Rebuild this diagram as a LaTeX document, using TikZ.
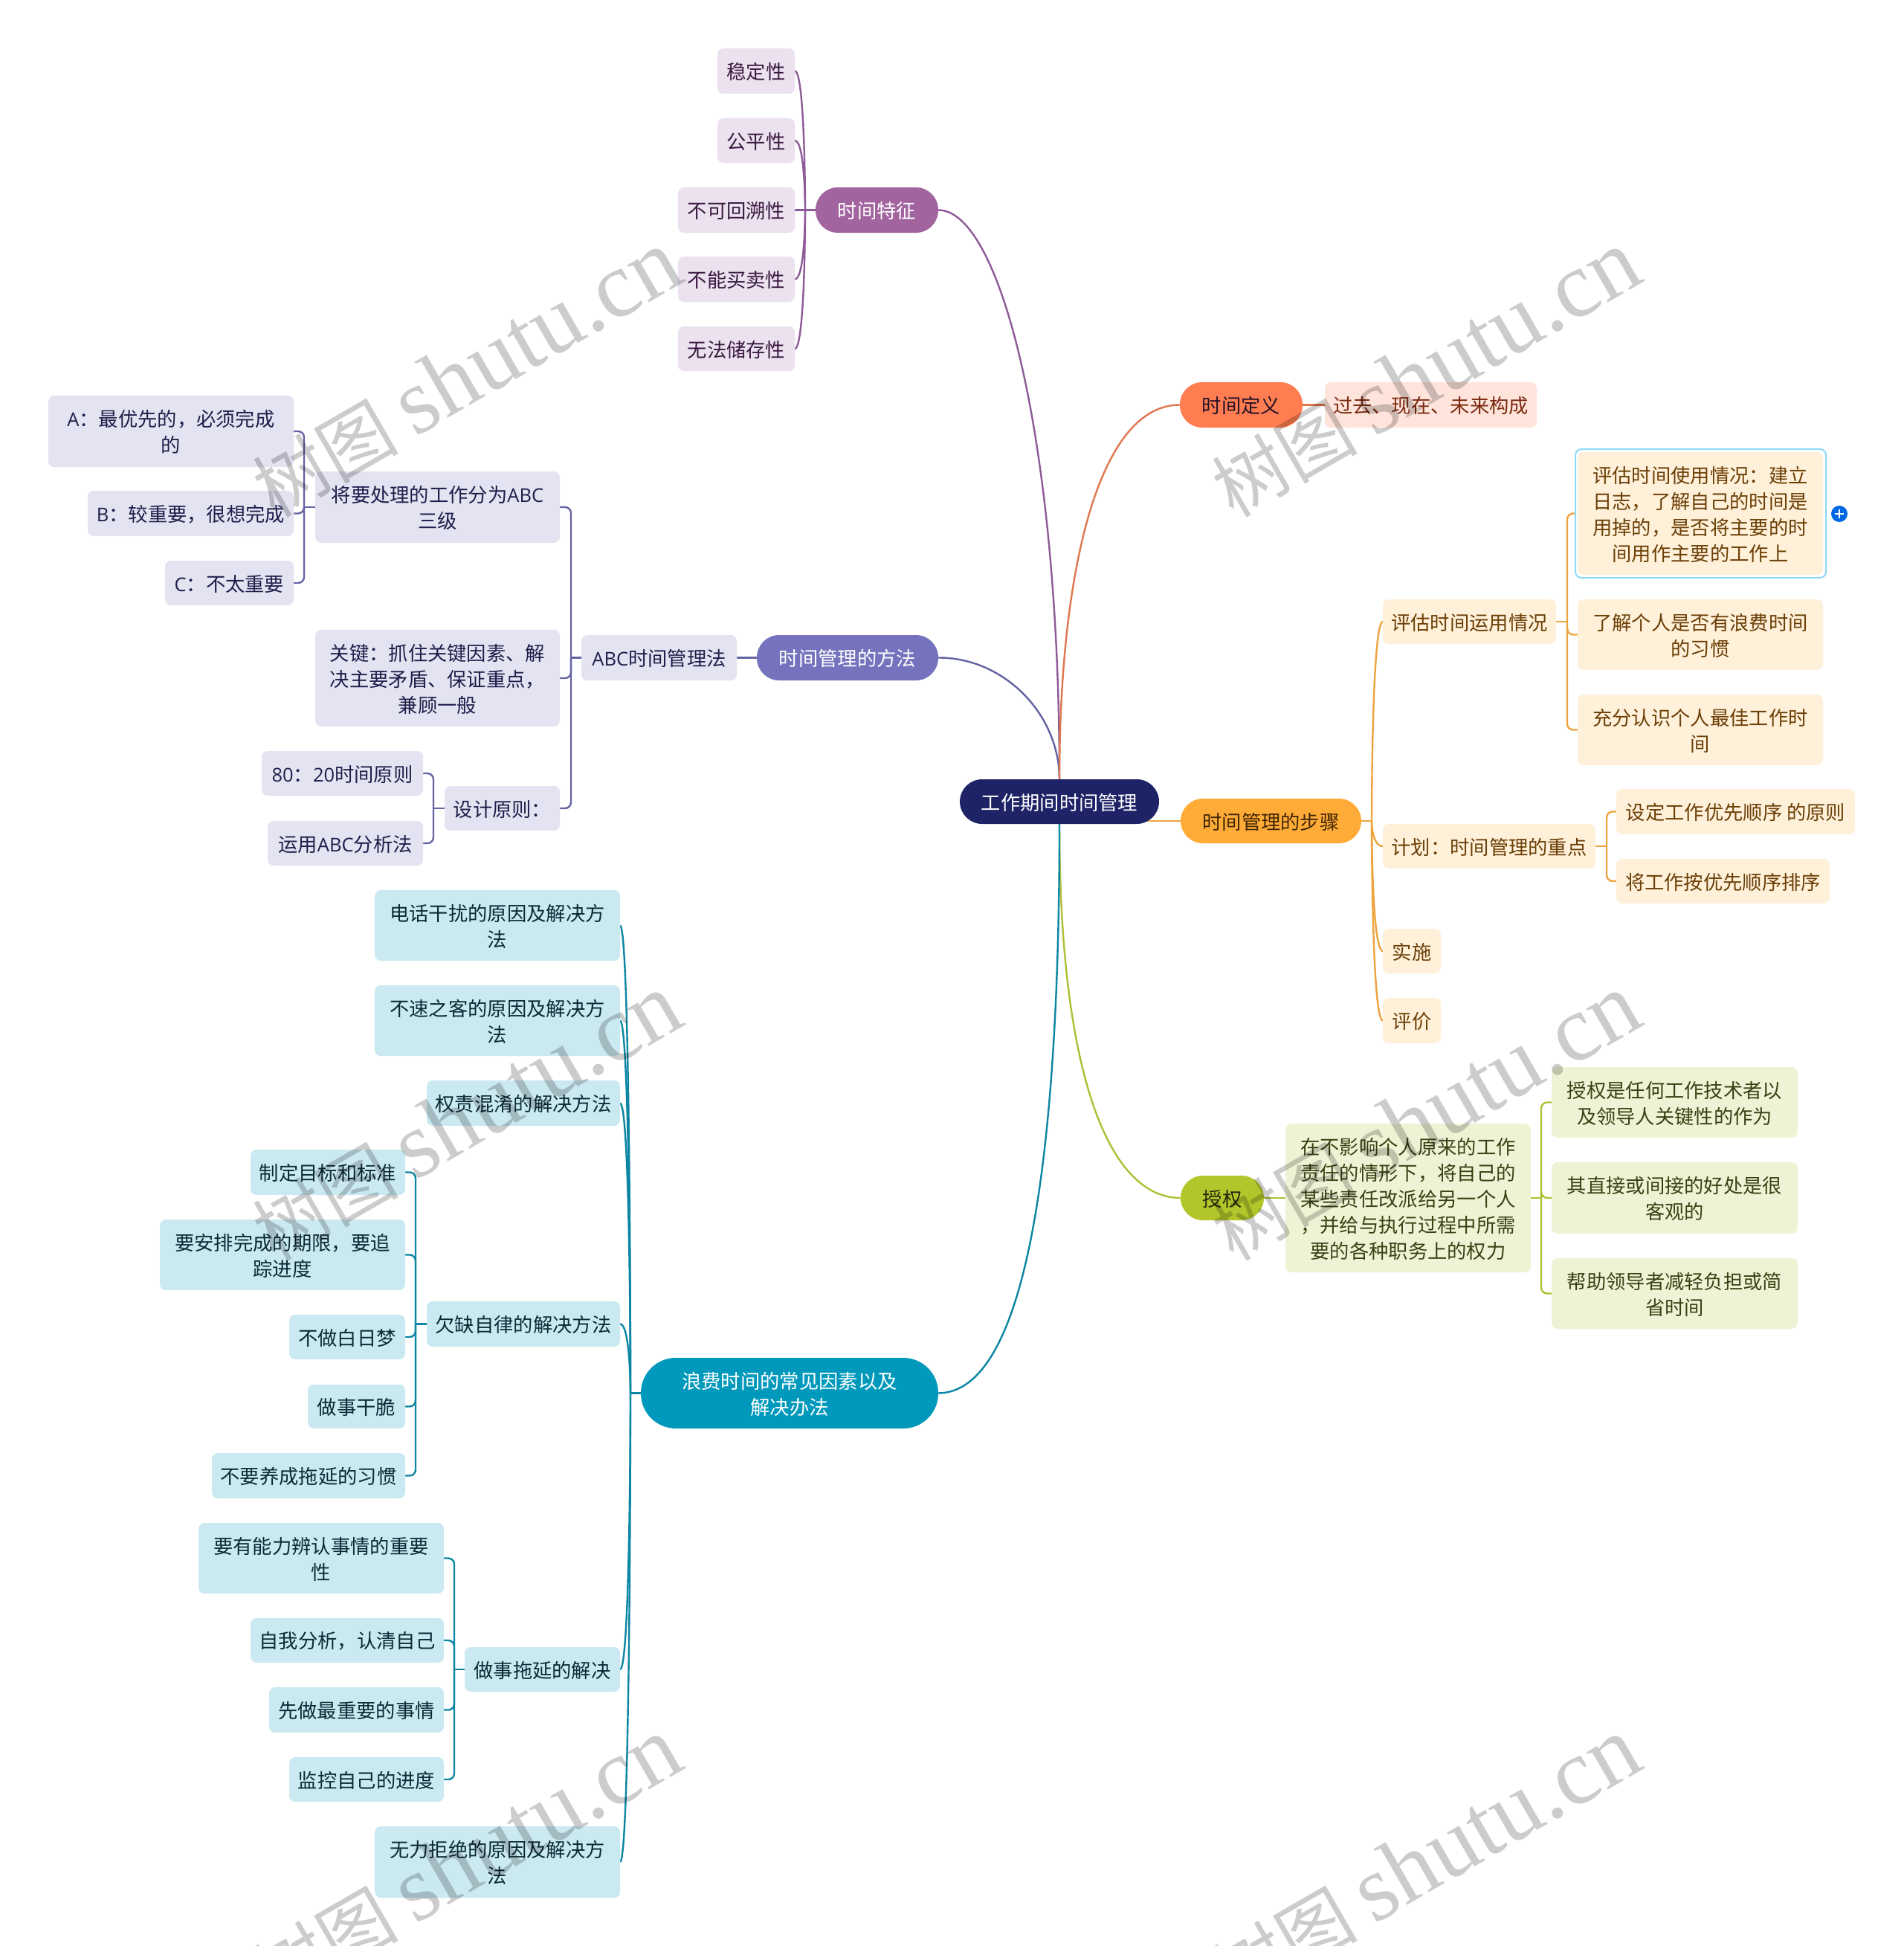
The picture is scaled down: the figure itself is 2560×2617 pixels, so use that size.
\documentclass[tikz,border=0pt]{standalone}
\usepackage{fontspec}
\setmainfont{Noto Sans CJK SC}
\newfontfamily\wmlatin{Liberation Serif}
\newfontfamily\ltnfont{Open Sans}
\newcommand\ltn[1]{{\ltnfont\fontsize{25.5}{35}\selectfont #1}}
\usetikzlibrary{backgrounds}
\definecolor{cRoot}{HTML}{1D2366}
\definecolor{cP}{HTML}{A2649F}\definecolor{cPl}{HTML}{EBE1EF}\definecolor{cPt}{HTML}{3A1A40}\definecolor{cPline}{HTML}{8F5A98}
\definecolor{cV}{HTML}{7573BE}\definecolor{cVl}{HTML}{E3E3F1}\definecolor{cVt}{HTML}{1E1E4B}\definecolor{cVline}{HTML}{6463A3}
\definecolor{cB}{HTML}{0099BB}\definecolor{cBl}{HTML}{CBE9F1}\definecolor{cBt}{HTML}{0B2A33}\definecolor{cBline}{HTML}{0C86A3}
\definecolor{cR}{HTML}{FF7D50}\definecolor{cRl}{HTML}{FFE4DC}\definecolor{cRt}{HTML}{7A2A10}\definecolor{cRline}{HTML}{E0774E}
\definecolor{cO}{HTML}{FFAB37}\definecolor{cOl}{HTML}{FFF0DA}\definecolor{cOt}{HTML}{6B3F05}\definecolor{cOline}{HTML}{EDA43F}
\definecolor{cG}{HTML}{B2C62B}\definecolor{cGl}{HTML}{EEF3D5}\definecolor{cGt}{HTML}{3B4014}\definecolor{cGline}{HTML}{AEC034}
\tikzset{
  base/.style={inner sep=0pt,outer sep=0pt,align=center,font=\fontsize{26.3}{35}\selectfont},
  leaf/.style={base,rounded corners=8pt},
  pill/.style={base,rounded corners=30pt},
  rootnode/.style={pill,fill=cRoot,text=white},
  leafP/.style={leaf,fill=cPl,text=cPt},
  leafV/.style={leaf,fill=cVl,text=cVt},
  leafB/.style={leaf,fill=cBl,text=cBt},
  leafR/.style={leaf,fill=cRl,text=cRt},
  leafO/.style={leaf,fill=cOl,text=cOt},
  leafG/.style={leaf,fill=cGl,text=cGt},
  lnP/.style={draw=cPline,line width=2.4pt},
  lnV/.style={draw=cVline,line width=2.4pt},
  lnB/.style={draw=cBline,line width=2.4pt},
  lnR/.style={draw=cRline,line width=2.4pt},
  lnO/.style={draw=cOline,line width=2.4pt},
  lnG/.style={draw=cGline,line width=2.4pt},
  wmark/.style={inner sep=0pt,anchor=base,rotate=30,text=black,opacity=0.2},
}
\newcommand\nd[7]{\node[#2,minimum width={(#5-#3)*1pt},minimum height={(#6-#4)*1pt}] (#1) at ({(#3+#5)/2},{(#4+#6)/2}) {\rule{0pt}{24.5pt}#7};}
\newcommand\curvec[3]{\draw[#1] (#2) .. controls (#2 -| #3) and (#3) .. (#3);}
\newcommand\elbow[3]{\draw[#1,rounded corners=8pt] (#3) -- (#3 |- #2) -- (#2);}
\newcommand\wm[2]{\node[wmark] (#1) at (#2) {\fontsize{98}{98}\selectfont 树图 {\wmlatin\fontsize{126}{126}\selectfont shutu.cn}};}
\begin{document}
\begin{tikzpicture}[x=1pt,y=-1pt]
\useasboundingbox (0,0) rectangle (2560,2617);
% root
\nd{root}{rootnode}{1291}{1048}{1559}{1108}{工作期间时间管理}
% purple
\nd{tz}{pill,fill=cP,text=white}{1097}{252}{1262}{313}{时间特征}
\nd{p1}{leafP}{965}{65}{1069}{126}{稳定性}
\nd{p2}{leafP}{965}{159}{1069}{219}{公平性}
\nd{p3}{leafP}{912}{252}{1069}{313}{不可回溯性}
\nd{p4}{leafP}{912}{345}{1069}{406}{不能买卖性}
\nd{p5}{leafP}{912}{439}{1069}{499}{无法储存性}
% violet
\nd{ff}{pill,fill=cV,text=white}{1018}{854}{1262}{915}{时间管理的方法}
\nd{abc}{leafV}{782}{854}{991}{915}{\ltn{ABC}时间管理法}
\nd{jiang}{leafV}{424}{634}{753}{730}{将要处理的工作分为\ltn{ABC}\\三级}
\nd{guan}{leafV}{424}{847}{753}{977}{关键：抓住关键因素、解\\决主要矛盾、保证重点，\\兼顾一般}
\nd{sheji}{leafV}{598}{1057}{753}{1117}{设计原则：}
\nd{va}{leafV}{65}{532}{395}{628}{\ltn{A}：最优先的，必须完成\\的}
\nd{vb}{leafV}{118}{660}{395}{721}{\ltn{B}：较重要，很想完成}
\nd{vc}{leafV}{222}{754}{395}{814}{\ltn{C}：不太重要}
\nd{v80}{leafV}{352}{1010}{569}{1070}{\ltn{80}：\ltn{20}时间原则}
\nd{vy}{leafV}{360}{1104}{569}{1164}{运用\ltn{ABC}分析法}
% blue
\nd{lf}{pill,rounded corners=47pt,fill=cB,text=white}{862}{1826}{1262}{1921}{浪费时间的常见因素以及\\解决办法}
\nd{b1}{leafB}{504}{1197}{834}{1292}{电话干扰的原因及解决方\\法}
\nd{b2}{leafB}{504}{1325}{834}{1420}{不速之客的原因及解决方\\法}
\nd{b3}{leafB}{574}{1453}{834}{1514}{权责混淆的解决方法}
\nd{qq}{leafB}{574}{1750}{834}{1811}{欠缺自律的解决方法}
\nd{zs}{leafB}{625}{2215}{834}{2275}{做事拖延的解决}
\nd{b6}{leafB}{504}{2456}{834}{2552}{无力拒绝的原因及解决方\\法}
\nd{q1}{leafB}{337}{1546}{545}{1607}{制定目标和标准}
\nd{q2}{leafB}{215}{1640}{545}{1735}{要安排完成的期限，要追\\踪进度}
\nd{q3}{leafB}{389}{1768}{545}{1828}{不做白日梦}
\nd{q4}{leafB}{414}{1862}{545}{1921}{做事干脆}
\nd{q5}{leafB}{285}{1954}{545}{2015}{不要养成拖延的习惯}
\nd{z1}{leafB}{267}{2048}{597}{2143}{要有能力辨认事情的重要\\性}
\nd{z2}{leafB}{337}{2176}{597}{2236}{自我分析，认清自己}
\nd{z3}{leafB}{362}{2269}{597}{2330}{先做最重要的事情}
\nd{z4}{leafB}{389}{2363}{597}{2423}{监控自己的进度}
% red
\nd{dy}{pill,fill=cR,text=cPt!60!black}{1587}{514}{1752}{575}{时间定义}
\nd{gq}{leafR}{1782}{514}{2067}{575}{过去、现在、未来构成}
% orange
\nd{bz}{pill,fill=cO,text=cOt!60!black}{1588}{1074}{1831}{1134}{时间管理的步骤}
\nd{pg}{leafO}{1860}{806}{2093}{866}{评估时间运用情况}
\nd{jh}{leafO}{1860}{1108}{2146}{1168}{计划：时间管理的重点}
\nd{ss}{leafO}{1860}{1249}{1938}{1309}{实施}
\nd{pj}{leafO}{1860}{1342}{1938}{1403}{评价}
\nd{sel}{leaf,fill=white,draw=cyan!45!white,line width=2pt}{2119}{604}{2456}{777}{}
\nd{g1}{leafO}{2122}{608}{2452}{773}{评估时间使用情况：建立\\日志，了解自己的时间是\\用掉的，是否将主要的时\\间用作主要的工作上}
\nd{g2}{leafO}{2122}{806}{2452}{901}{了解个人是否有浪费时间\\的习惯}
\nd{g3}{leafO}{2122}{934}{2452}{1029}{充分认识个人最佳工作时\\间}
\nd{h1}{leafO}{2174}{1061}{2495}{1122}{设定工作优先顺序 的原则}
\nd{h2}{leafO}{2174}{1155}{2461}{1215}{将工作按优先顺序排序}
\node[circle,fill=blue!55!cyan!90!black,minimum size=22pt,inner sep=0pt] (plus) at (2474,691) {};
\draw[white,line width=2.5pt] ([xshift=-6pt]plus.center) -- ([xshift=6pt]plus.center);
\draw[white,line width=2.5pt] ([yshift=-6pt]plus.center) -- ([yshift=6pt]plus.center);
% green
\nd{sq}{pill,fill=cG,text=cGt!60!black}{1588}{1581}{1700}{1641}{授权}
\nd{zb}{leafG}{1729}{1511}{2059}{1711}{在不影响个人原来的工作\\责任的情形下，将自己的\\某些责任改派给另一个人\\，并给与执行过程中所需\\要的各种职务上的权力}
\nd{s1}{leafG}{2087}{1435}{2418}{1530}{授权是任何工作技术者以\\及领导人关键性的作为}
\nd{s2}{leafG}{2087}{1563}{2418}{1659}{其直接或间接的好处是很\\客观的}
\nd{s3}{leafG}{2087}{1692}{2418}{1787}{帮助领导者减轻负担或简\\省时间}
% junctions
\coordinate[xshift=-14pt] (jT) at (tz.west);
\coordinate[xshift=-14pt] (jA) at (abc.west);
\coordinate[xshift=-15pt] (jJ) at (jiang.west);
\coordinate[xshift=-15pt] (jS) at (sheji.west);
\coordinate[xshift=-14pt] (jL) at (lf.west);
\coordinate[xshift=-15pt] (jQ) at (qq.west);
\coordinate[xshift=-14pt] (jZ) at (zs.west);
\coordinate[xshift=14pt] (jB) at (bz.east);
\coordinate[xshift=15pt] (jG) at (pg.east);
\coordinate[xshift=15pt] (jH) at (jh.east);
\coordinate[xshift=14pt] (jK) at (zb.east);
\begin{scope}[on background layer]
\fill[white] (0,0) rectangle (2560,2617);
% main branches
\draw[lnP] (root.north) .. controls (1425,590) and (1345,282) .. (tz.east);
\draw[lnV] (root.north) .. controls (1425,960) and (1350,884) .. (ff.east);
\draw[lnR] (root.north) .. controls (1425,760) and (1480,544) .. (dy.west);
\draw[lnO] (bz.west) -- (bz.west -| root.center);
\draw[lnG] (root.south) .. controls (1425,1440) and (1490,1611) .. (sq.west);
\draw[lnB] (root.south) .. controls (1425,1560) and (1380,1873) .. (lf.east);
% purple
\draw[lnP] (tz.west) -- (jT);
\foreach \n in {p1,p2,p3,p4,p5}{\curvec{lnP}{\n.east}{jT}}
% violet
\draw[lnV] (ff.west) -- (abc.east);
\draw[lnV] (abc.west) -- (jA);
\foreach \n in {jiang,guan,sheji}{\elbow{lnV}{\n.east}{jA}}
\draw[lnV] (jiang.west) -- (jJ);
\foreach \n in {va,vb,vc}{\elbow{lnV}{\n.east}{jJ}}
\draw[lnV] (sheji.west) -- (jS);
\foreach \n in {v80,vy}{\elbow{lnV}{\n.east}{jS}}
% blue
\draw[lnB] (lf.west) -- (jL);
\foreach \n in {b1,b2,b3,qq,zs,b6}{\curvec{lnB}{\n.east}{jL}}
\draw[lnB] (qq.west) -- (jQ);
\foreach \n in {q1,q2,q3,q4,q5}{\elbow{lnB}{\n.east}{jQ}}
\draw[lnB] (zs.west) -- (jZ);
\foreach \n in {z1,z2,z3,z4}{\elbow{lnB}{\n.east}{jZ}}
% red
\draw[lnR] (dy.east) -- (gq.west);
% orange
\draw[lnO] (bz.east) -- (jB);
\foreach \n in {pg,jh,ss,pj}{\curvec{lnO}{\n.west}{jB}}
\draw[lnO] (pg.east) -- (jG);
\foreach \n in {g1,g2,g3}{\elbow{lnO}{\n.west}{jG}}
\draw[lnO] (jh.east) -- (jH);
\foreach \n in {h1,h2}{\elbow{lnO}{\n.west}{jH}}
% green
\draw[lnG] (sq.east) -- (zb.west);
\draw[lnG] (zb.east) -- (jK);
\foreach \n in {s1,s2,s3}{\elbow{lnG}{\n.west}{jK}}
\end{scope}
% watermarks
\wm{w1}{647,537}
\wm{w2}{1937,537}
\wm{w3}{647,1537}
\wm{w4}{1937,1537}
\wm{w5}{647,2537}
\wm{w6}{1937,2537}
\end{tikzpicture}
\end{document}
